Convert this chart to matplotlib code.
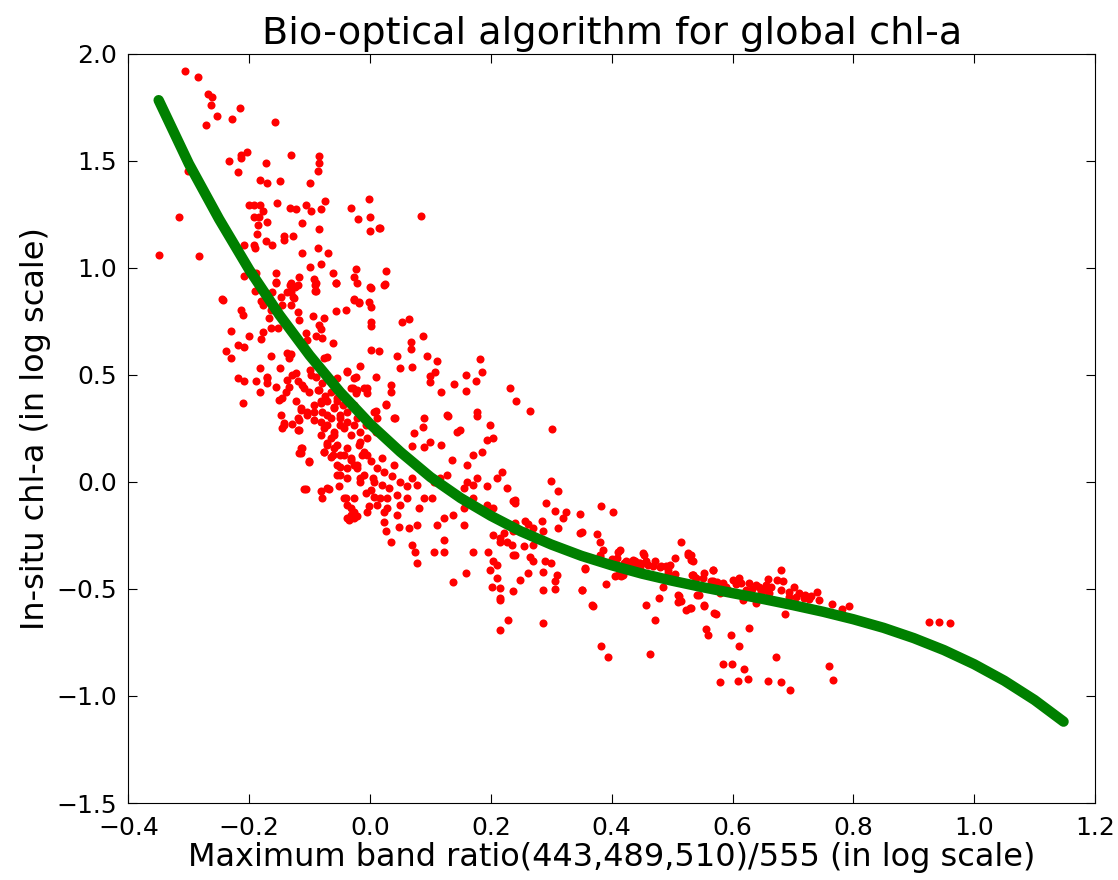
import numpy as np
import matplotlib
matplotlib.use("Agg")
import matplotlib.pyplot as plt

# (log band ratio, log in-situ chl-a), grouped by region
obs_upper = [
    (-0.306, 1.919), (-0.285, 1.891), (-0.268, 1.810), (-0.262, 1.795), (-0.263, 1.759), (-0.254, 1.709),
    (-0.272, 1.666), (-0.216, 1.747), (-0.229, 1.694), (-0.157, 1.679), (-0.203, 1.541), (-0.214, 1.525),
    (-0.214, 1.510), (-0.234, 1.497), (-0.172, 1.490), (-0.131, 1.527), (-0.084, 1.521), (-0.084, 1.490),
    (-0.087, 1.453), (-0.218, 1.447), (-0.302, 1.453), (-0.183, 1.409), (-0.170, 1.397), (-0.149, 1.403),
    (-0.100, 1.397), (-0.002, 1.322), (-0.074, 1.309), (-0.154, 1.300), (-0.200, 1.292), (-0.192, 1.292),
    (-0.183, 1.292), (-0.177, 1.266), (-0.193, 1.235), (-0.184, 1.235), (-0.186, 1.199), (-0.170, 1.215),
    (-0.133, 1.280), (-0.123, 1.272), (-0.106, 1.292), (-0.098, 1.264), (-0.082, 1.272), (-0.032, 1.280),
    (-0.020, 1.229), (0.000, 1.235), (0.000, 1.169), (0.015, 1.185), (-0.113, 1.207), (-0.084, 1.179),
    (-0.316, 1.235), (-0.350, 1.061), (-0.283, 1.054), (-0.188, 1.155), (-0.172, 1.126), (-0.162, 1.104),
    (-0.142, 1.147), (-0.142, 1.129), (-0.128, 1.147), (-0.208, 1.104), (-0.192, 1.104), (-0.190, 1.094),
    (-0.113, 1.067), (-0.087, 1.090), (-0.069, 1.067), (-0.082, 1.017), (-0.100, 1.001), (-0.024, 0.995),
    (-0.027, 0.958), (-0.022, 0.927), (-0.062, 0.973), (-0.057, 0.930), (-0.093, 0.949), (-0.091, 0.921),
    (-0.091, 0.893), (-0.118, 0.958), (0.000, 0.908), (0.024, 0.923), (0.026, 0.986), (-0.155, 0.973),
    (-0.155, 0.930), (-0.133, 0.921), (-0.125, 0.911), (-0.137, 0.886), (-0.128, 0.865), (-0.148, 0.865),
    (-0.162, 0.886), (-0.208, 0.961), (-0.189, 0.973), (-0.190, 0.893), (-0.245, 0.852), (-0.181, 0.843),
    (-0.026, 0.852), (-0.018, 0.841), (-0.001, 0.841), (0.085, 1.243), (0.017, 1.183), (0.023, 0.919),
]

obs_left = [
    (-0.244, 0.847), (-0.156, 0.935), (-0.131, 0.927), (-0.120, 0.919), (-0.131, 0.888), (-0.126, 0.857),
    (-0.145, 0.826), (-0.131, 0.826), (-0.178, 0.826), (-0.090, 0.927), (-0.090, 0.891), (-0.057, 0.927),
    (0.001, 0.907), (-0.027, 0.849), (-0.018, 0.833), (0.001, 0.818), (-0.040, 0.802), (-0.057, 0.797),
    (-0.076, 0.766), (-0.095, 0.776), (-0.120, 0.795), (-0.117, 0.755), (-0.164, 0.802), (-0.214, 0.802),
    (-0.211, 0.779), (-0.230, 0.704), (-0.200, 0.683), (-0.219, 0.639), (-0.208, 0.631), (-0.238, 0.611),
    (-0.230, 0.580), (-0.181, 0.667), (-0.178, 0.701), (-0.164, 0.720), (-0.167, 0.763), (-0.153, 0.717),
    (0.001, 0.748), (0.001, 0.729), (0.053, 0.748), (0.064, 0.760), (-0.084, 0.732), (-0.082, 0.713),
    (-0.090, 0.683), (-0.079, 0.673), (-0.106, 0.693), (-0.104, 0.662), (-0.062, 0.647), (-0.164, 0.589),
    (-0.137, 0.600), (-0.134, 0.580), (-0.131, 0.595), (-0.149, 0.530), (-0.183, 0.530), (-0.219, 0.487),
    (-0.208, 0.471), (-0.189, 0.471), (-0.170, 0.483), (-0.156, 0.444), (-0.183, 0.421), (-0.211, 0.367),
    (-0.076, 0.577), (-0.071, 0.585), (-0.038, 0.518), (-0.016, 0.543), (-0.024, 0.491), (0.001, 0.615),
    (0.015, 0.611), (0.045, 0.589), (0.050, 0.530), (0.009, 0.491), (0.034, 0.452), (0.034, 0.421),
    (0.026, 0.362), (0.009, 0.331), (0.039, 0.297), (-0.010, 0.437), (-0.005, 0.413), (-0.032, 0.437),
    (-0.024, 0.413), (-0.170, 0.491), (-0.170, 0.460), (-0.137, 0.476), (-0.123, 0.507), (-0.134, 0.444),
    (-0.145, 0.390), (-0.123, 0.375), (-0.112, 0.452), (-0.115, 0.335), (-0.148, 0.312), (-0.142, 0.273),
    (-0.145, 0.250), (-0.117, 0.289), (-0.117, 0.242), (-0.104, 0.312), (-0.098, 0.499), (-0.101, 0.421),
    (-0.087, 0.429), (-0.082, 0.375), (-0.093, 0.328), (-0.071, 0.375), (-0.065, 0.297), (-0.076, 0.250),
    (-0.082, 0.281), (-0.054, 0.483), (-0.038, 0.511), (-0.027, 0.483), (-0.029, 0.437), (-0.021, 0.429),
    (-0.005, 0.437), (-0.130, 0.500), (-0.120, 0.470), (-0.110, 0.440), (-0.100, 0.520), (-0.090, 0.490),
    (-0.085, 0.430), (-0.080, 0.460), (-0.075, 0.400), (-0.065, 0.420), (-0.060, 0.350), (-0.055, 0.390),
    (-0.050, 0.310), (-0.045, 0.360), (-0.140, 0.420), (-0.150, 0.380), (-0.120, 0.300), (-0.130, 0.270),
    (-0.142, 0.265), (-0.120, 0.242),
]

obs_core = [
    (-0.115, 0.343), (-0.104, 0.328), (-0.093, 0.359), (-0.082, 0.367), (-0.079, 0.328), (-0.071, 0.312),
    (-0.060, 0.343), (-0.054, 0.375), (-0.049, 0.297), (-0.038, 0.328), (-0.027, 0.359), (-0.021, 0.297),
    (-0.093, 0.289), (-0.071, 0.266), (-0.060, 0.234), (-0.043, 0.250), (-0.032, 0.219), (-0.027, 0.266),
    (-0.016, 0.234), (-0.007, 0.266), (-0.005, 0.203), (0.006, 0.328), (0.012, 0.297), (0.026, 0.359),
    (0.042, 0.297), (0.009, 0.234), (-0.112, 0.157), (-0.101, 0.095), (-0.076, 0.141), (-0.071, 0.180),
    (-0.062, 0.125), (-0.054, 0.079), (-0.049, 0.032), (-0.038, 0.157), (-0.032, 0.110), (-0.027, 0.079),
    (-0.018, 0.172), (-0.013, 0.125), (-0.010, 0.032), (0.001, 0.095), (0.004, 0.017), (0.012, 0.063),
    (0.020, 0.110), (0.020, -0.015), (0.031, -0.030), (0.037, 0.025), (0.045, -0.061), (0.050, 0.001),
    (0.061, -0.022), (0.070, 0.017), (0.078, -0.015), (0.089, -0.077), (0.103, -0.077), (0.105, 0.001),
    (-0.027, -0.170), (-0.032, -0.155), (-0.002, -0.115), (0.006, -0.069), (0.012, -0.108), (0.023, -0.139),
    (0.028, -0.123), (0.023, -0.186), (0.026, -0.232), (0.034, -0.279), (0.048, -0.209), (0.045, -0.155),
    (0.064, -0.217), (0.070, -0.295), (0.075, -0.326), (0.078, -0.380), (0.078, -0.201), (0.081, -0.123),
    (-0.054, 0.172), (-0.043, 0.125), (-0.021, 0.079), (-0.005, 0.125), (0.006, 0.001), (0.023, 0.048),
    (-0.016, 0.001), (-0.038, 0.063), (0.001, -0.038), (0.028, -0.077), (0.050, -0.108), (0.061, -0.077),
    (0.039, 0.079), (0.017, -0.077), (-0.065, 0.203), (-0.082, 0.219), (-0.060, 0.219), (-0.049, 0.266),
    (-0.038, 0.281), (-0.071, 0.172), (-0.076, 0.141), (-0.115, 0.157), (-0.117, 0.133), (-0.060, 0.157),
    (-0.065, 0.118), (-0.049, 0.125), (-0.049, 0.071), (-0.054, 0.032), (-0.032, 0.102), (-0.038, 0.017),
    (-0.021, 0.063), (-0.016, 0.017), (-0.010, 0.141), (-0.016, 0.188), (-0.109, -0.033), (-0.082, -0.045),
    (-0.071, -0.030), (-0.051, -0.022), (-0.079, -0.077), (-0.043, -0.077), (-0.038, -0.108), (-0.027, -0.077),
    (-0.007, -0.054), (-0.027, -0.139), (-0.035, -0.178), (-0.021, -0.162), (-0.005, -0.139), (-0.115, 0.133),
    (-0.101, 0.091), (-0.106, -0.033), (-0.068, -0.033), (-0.040, -0.077), (-0.032, -0.124), (-0.038, -0.170),
]

obs_centre = [
    (0.087, 0.683), (0.067, 0.651), (0.067, 0.620), (0.070, 0.535), (0.095, 0.586), (0.111, 0.564),
    (0.108, 0.515), (0.100, 0.494), (0.099, 0.465), (0.182, 0.572), (0.186, 0.515), (0.175, 0.471),
    (0.159, 0.499), (0.139, 0.455), (0.158, 0.426), (0.118, 0.418), (0.232, 0.440), (0.242, 0.378),
    (0.265, 0.331), (0.301, 0.245), (0.090, 0.297), (0.087, 0.258), (0.072, 0.230), (0.129, 0.309),
    (0.100, 0.188), (0.117, 0.172), (0.070, 0.169), (0.089, 0.163),
    (0.127, 0.312), (0.144, 0.234), (0.149, 0.242), (0.177, 0.328), (0.177, 0.305), (0.199, 0.266),
    (0.193, 0.195), (0.204, 0.203), (0.185, 0.141), (0.171, 0.125), (0.136, 0.102), (0.160, 0.079),
    (0.160, 0.001), (0.127, 0.032), (0.116, 0.017), (0.155, -0.030), (0.171, -0.015), (0.177, 0.017),
    (0.193, -0.022), (0.210, 0.017), (0.218, 0.048), (0.226, -0.030), (0.237, -0.092), (0.138, -0.155),
    (0.122, -0.170), (0.111, -0.201), (0.155, -0.201), (0.155, -0.123), (0.171, -0.077), (0.193, -0.108),
    (0.204, -0.123), (0.204, -0.248), (0.215, -0.263), (0.226, -0.279), (0.237, -0.232), (0.237, -0.341),
    (0.171, -0.326), (0.196, -0.326), (0.204, -0.372), (0.210, -0.388), (0.199, -0.411), (0.210, -0.450),
    (0.215, -0.497), (0.202, -0.489), (0.237, -0.512), (0.215, -0.551), (0.158, -0.427), (0.138, -0.466),
    (0.122, -0.326), (0.105, -0.326), (0.122, -0.271), (0.229, -0.645),
]

obs_mid = [
    (0.240, -0.084), (0.240, -0.100), (0.299, 0.004), (0.311, -0.042), (0.292, -0.100), (0.306, -0.136),
    (0.320, -0.167), (0.325, -0.142), (0.347, -0.151), (0.383, -0.113), (0.402, -0.142), (0.240, -0.193),
    (0.257, -0.185), (0.262, -0.198), (0.270, -0.217), (0.284, -0.185), (0.287, -0.229), (0.257, -0.232),
    (0.265, -0.255), (0.221, -0.240), (0.235, -0.294), (0.215, -0.279), (0.311, -0.217), (0.347, -0.237),
    (0.375, -0.245), (0.380, -0.282), (0.254, -0.302), (0.270, -0.294), (0.240, -0.341), (0.265, -0.349),
    (0.270, -0.372), (0.289, -0.372), (0.300, -0.380), (0.287, -0.419), (0.262, -0.427), (0.309, -0.434),
    (0.248, -0.458), (0.306, -0.463), (0.306, -0.500), (0.287, -0.507), (0.215, -0.543), (0.215, -0.691),
    (0.286, -0.660), (0.350, -0.507), (0.355, -0.407), (0.369, -0.579), (0.391, -0.477), (0.380, -0.349),
    (0.386, -0.318), (0.408, -0.357), (0.413, -0.318), (0.410, -0.434), (0.419, -0.434), (0.424, -0.372),
    (0.435, -0.364), (0.446, -0.380), (0.454, -0.341), (0.457, -0.380), (0.468, -0.395), (0.471, -0.372),
    (0.482, -0.395), (0.490, -0.395), (0.496, -0.388), (0.504, -0.357), (0.515, -0.279), (0.526, -0.341),
    (0.531, -0.364), (0.533, -0.434), (0.540, -0.450), (0.479, -0.543), (0.457, -0.577), (0.471, -0.645),
    (0.509, -0.528), (0.515, -0.559), (0.523, -0.598), (0.531, -0.590), (0.542, -0.528), (0.485, -0.489),
    (0.383, -0.769), (0.394, -0.820), (0.463, -0.805), (0.400, -0.360), (0.403, -0.390), (0.428, -0.390),
    (0.440, -0.390), (0.446, -0.400), (0.493, -0.410), (0.504, -0.430), (0.350, -0.235), (0.380, -0.341),
    (0.410, -0.326), (0.408, -0.388), (0.438, -0.369), (0.452, -0.333), (0.457, -0.372), (0.526, -0.333),
    (0.534, -0.434), (0.355, -0.403), (0.350, -0.505), (0.368, -0.577), (0.493, -0.427), (0.405, -0.442),
    (0.416, -0.442), (0.420, -0.380), (0.430, -0.375), (0.445, -0.380), (0.460, -0.390), (0.480, -0.400),
    (0.440, -0.400), (0.512, -0.535), (0.509, -0.562),
]

obs_tail = [
    (0.531, -0.341), (0.534, -0.369), (0.534, -0.437), (0.553, -0.427), (0.551, -0.450), (0.568, -0.411),
    (0.567, -0.463), (0.575, -0.469), (0.584, -0.473), (0.600, -0.458), (0.611, -0.447), (0.614, -0.473),
    (0.628, -0.473), (0.639, -0.481), (0.644, -0.489), (0.655, -0.481), (0.659, -0.455), (0.674, -0.458),
    (0.680, -0.411), (0.683, -0.463), (0.680, -0.505), (0.694, -0.515), (0.702, -0.492), (0.705, -0.536),
    (0.718, -0.543), (0.727, -0.547), (0.740, -0.515), (0.743, -0.551), (0.765, -0.571), (0.782, -0.593),
    (0.793, -0.582), (0.545, -0.531), (0.529, -0.590), (0.553, -0.579), (0.572, -0.618), (0.556, -0.687),
    (0.559, -0.717), (0.597, -0.717), (0.610, -0.769), (0.628, -0.683), (0.687, -0.617), (0.672, -0.820),
    (0.584, -0.850), (0.599, -0.850), (0.619, -0.873), (0.579, -0.937), (0.609, -0.929), (0.625, -0.923),
    (0.659, -0.929), (0.680, -0.937), (0.695, -0.974), (0.760, -0.862), (0.767, -0.924), (0.926, -0.655),
    (0.942, -0.655), (0.960, -0.660), (0.592, -0.505), (0.600, -0.520), (0.617, -0.551), (0.639, -0.567),
    (0.661, -0.520), (0.622, -0.505), (0.647, -0.510), (0.590, -0.490), (0.664, -0.490), (0.720, -0.530),
    (0.730, -0.535), (0.710, -0.520), (0.694, -0.540), (0.606, -0.478), (0.580, -0.520), (0.565, -0.465),
    (0.633, -0.500), (0.653, -0.505), (0.567, -0.411), (0.570, -0.613), (0.553, -0.577),
]

# fitted curve, every 0.05
fit_x = [-0.35, -0.30, -0.25, -0.20, -0.15, -0.10, -0.05, 0.00, 0.05, 0.10, 0.15, 0.20, 0.25,
         0.30, 0.35, 0.40, 0.45, 0.50, 0.55, 0.60, 0.65, 0.70, 0.75, 0.80, 0.85, 0.90, 0.95,
         1.00, 1.05, 1.10, 1.148]
fit_y = [1.782, 1.485, 1.227, 0.990, 0.779, 0.590, 0.420, 0.270, 0.140, 0.022, -0.076, -0.159, -0.232,
         -0.293, -0.346, -0.390, -0.429, -0.462, -0.492, -0.520, -0.547, -0.576, -0.607, -0.642, -0.682,
         -0.730, -0.786, -0.852, -0.929, -1.019, -1.120]

obs = np.array(obs_upper + obs_left + obs_core + obs_centre + obs_mid + obs_tail)

fig = plt.figure(figsize=(11.18, 8.8), dpi=100)
ax = fig.add_axes([0.1149, 0.0875, 0.8645, 0.8517])

ax.plot(obs[:, 0], obs[:, 1], "o", color="red", markeredgewidth=0, markersize=5.8)
ax.plot(fit_x, fit_y, "-", color=(0, 0.5, 0), linewidth=7.5,
        solid_capstyle="round", solid_joinstyle="round")

ax.set_xlim(-0.4, 1.2)
ax.set_ylim(-1.5, 2.0)
ax.set_xticks(np.arange(-0.4, 1.21, 0.2))
ax.set_yticks(np.arange(-1.5, 2.01, 0.5))
ax.tick_params(direction="in", top=True, right=True, length=6.5, labelsize=18)
ax.tick_params(axis="x", pad=9)
ax.tick_params(axis="y", pad=8)
ax.set_title("Bio-optical algorithm for global chl-a", fontsize=27.5, pad=7)
ax.set_xlabel("Maximum band ratio(443,489,510)/555 (in log scale)", fontsize=23, labelpad=2)
ax.set_ylabel("In-situ chl-a (in log scale)", fontsize=23, labelpad=4)

fig.savefig("out.png", dpi=100)
plt.close(fig)
